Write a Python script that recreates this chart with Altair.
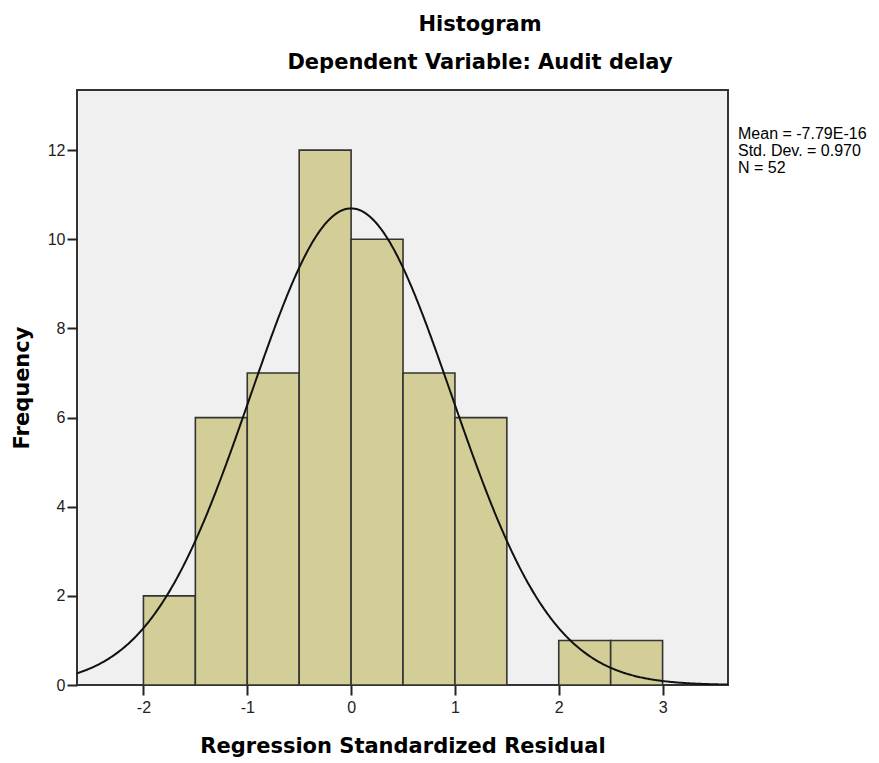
import altair as alt
import pandas as pd

# Data
bin_start = [-2.0, -1.5, -1.0, -0.5, 0.0, 0.5, 1.0, 1.5, 2.0, 2.5]
bin_end = [-1.5, -1.0, -0.5, 0.0, 0.5, 1.0, 1.5, 2.0, 2.5, 3.0]
counts = [2, 6, 7, 12, 10, 7, 6, 0, 1, 1]

x_ticks = [-2, -1, 0, 1, 2, 3]
y_ticks = [0, 2, 4, 6, 8, 10, 12]

mean_val = -7.79e-16
sd_val = 0.970
n_val = 52
bin_width = 0.5

stats_lines = ["Mean = -7.79E-16", "Std. Dev. = 0.970", "N = 52"]
title_text = "Histogram"
subtitle_text = "Dependent Variable: Audit delay"

X_DOMAIN = [-2.64, 3.63]
Y_DOMAIN = [0, 13.35]
W, H = 651, 595

df = pd.DataFrame({"start": bin_start, "end": bin_end, "count": counts})

xscale = alt.Scale(domain=X_DOMAIN, nice=False, zero=False)
yscale = alt.Scale(domain=Y_DOMAIN, nice=False, zero=False)

x_axis = alt.Axis(
    values=x_ticks, title="Regression Standardized Residual", grid=False,
    domain=False, tickSize=10, tickWidth=2, tickColor="#222",
    labelFont="Liberation Sans", labelFontSize=16, labelColor="#222",
    labelPadding=4, titleFont="DejaVu Sans", titleFontSize=21,
    titleFontWeight="bold", titleColor="#000", titleY=67,
    titleBaseline="alphabetic", labelExpr="'' + datum.value",
)
y_axis = alt.Axis(
    values=y_ticks, title="Frequency", grid=False, domain=False,
    tickSize=10, tickWidth=2, tickColor="#222",
    labelFont="Liberation Sans", labelFontSize=16, labelColor="#222",
    labelPadding=2, titleFont="DejaVu Sans", titleFontSize=21,
    titleFontWeight="bold", titleColor="#000", titleX=-49,
    titleBaseline="alphabetic", titleAngle=270, labelExpr="'' + datum.value",
)

bars = alt.Chart(df).transform_filter("datum.count > 0").mark_bar(
    fill="#D3CE98", stroke="#333333", strokeWidth=1.6, opacity=1
).encode(
    x=alt.X("start:Q", scale=xscale, axis=x_axis),
    x2="end:Q",
    y=alt.Y("count:Q", scale=yscale, axis=y_axis),
    y2=alt.datum(0),
)

curve = alt.Chart(alt.sequence(X_DOMAIN[0], X_DOMAIN[1] + 0.005, 0.01, as_="x")).transform_calculate(
    y=f"{n_val}*{bin_width}/({sd_val}*sqrt(2*PI))*exp(-0.5*pow((datum.x-({mean_val}))/{sd_val},2))"
).mark_line(color="#111", strokeWidth=2, clip=True).encode(
    x=alt.X("x:Q", scale=xscale),
    y=alt.Y("y:Q", scale=yscale),
)

one = pd.DataFrame({"a": [0]})
title_mark = alt.Chart(one).mark_text(
    text=title_text, font="DejaVu Sans", fontSize=21, fontWeight="bold",
    align="center", baseline="alphabetic", color="#000"
).encode(x=alt.value(403), y=alt.value(-59))

subtitle_mark = alt.Chart(one).mark_text(
    text=subtitle_text, font="DejaVu Sans", fontSize=21, fontWeight="bold",
    align="center", baseline="alphabetic", color="#000"
).encode(x=alt.value(403), y=alt.value(-21))

stats_mark = alt.Chart(one).mark_text(
    text=stats_lines, font="Liberation Sans", fontSize=16, lineHeight=17,
    align="left", baseline="alphabetic", color="#000"
).encode(x=alt.value(661), y=alt.value(49))

chart = alt.layer(bars, curve, title_mark, subtitle_mark, stats_mark).properties(
    width=W, height=H,
    background="white",
    autosize=alt.AutoSizeParams(type="none"),
    padding={"left": 69, "top": 82, "right": 143, "bottom": 72},
).configure_view(
    fill="#F0F0F0", stroke="#333333", strokeWidth=2
)

chart.save("out.html", embed_options={"renderer": "svg", "actions": False})
